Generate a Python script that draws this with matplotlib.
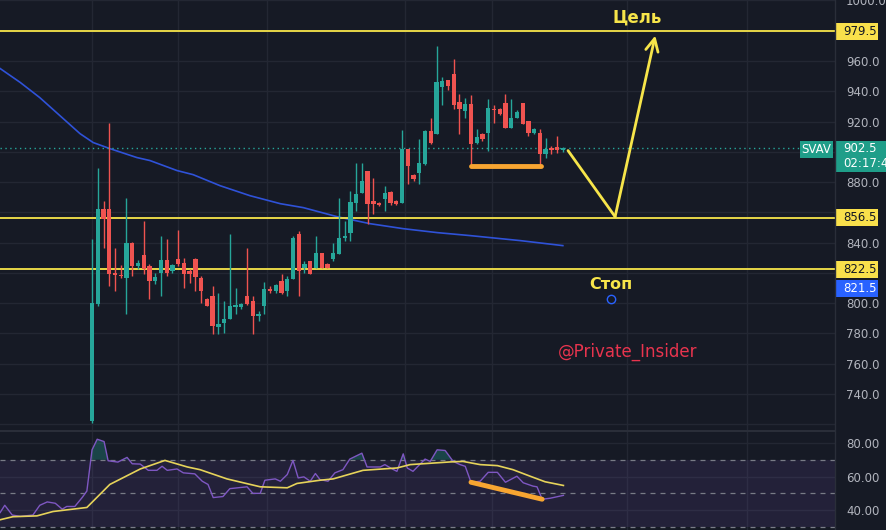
import matplotlib
matplotlib.use('Agg')
import matplotlib.pyplot as plt
import matplotlib.transforms as mtrans
from matplotlib.patches import Rectangle
from matplotlib.lines import Line2D
import numpy as np

# ---------------- data ----------------
opens = [722.2, 799.6, 862.4, 862.4, 820.1, 818.8, 816.8, 840.0, 824.7, 832.0,
         824.7, 814.8, 820.1, 828.7, 821.4, 829.4, 826.7, 821.4, 829.4, 816.8,
         802.9, 804.9, 784.4, 787.0, 789.7, 797.6, 797.6, 804.9, 801.6, 791.7,
         798.3, 809.5, 808.2, 814.8, 808.2, 816.1, 845.9, 823.4, 828.0, 823.4,
         833.3, 826.1, 829.4, 832.7, 843.2, 846.6, 866.4, 873.0, 887.6, 867.7,
         866.4, 869.0, 873.7, 867.7, 866.4, 902.1, 884.9, 886.2, 892.2, 914.0,
         912.0, 942.5, 947.7, 951.7, 933.2, 927.2, 931.9, 906.1, 912.0, 912.7,
         928.6, 928.6, 932.5, 916.0, 922.6, 932.5, 920.6, 912.7, 912.7, 898.8,
         902.8, 903.4, 901.5]
highs = [842.6, 889.5, 867.7, 919.3, 836.7, 825.4, 869.7, 840.6, 828.7, 854.5,
         826.1, 820.1, 844.6, 842.6, 826.1, 848.0, 830.0, 822.7, 830.0, 818.1,
         803.6, 811.5, 806.9, 801.6, 845.9, 810.2, 800.3, 836.7, 804.9, 795.0,
         814.1, 811.5, 812.5, 819.4, 818.1, 844.6, 847.9, 828.0, 828.0, 844.6,
         833.3, 826.7, 840.0, 869.7, 854.5, 874.3, 892.9, 892.9, 887.6, 882.9,
         867.1, 877.6, 874.3, 868.0, 914.7, 902.1, 885.5, 908.7, 914.7, 922.0,
         970.2, 949.7, 947.7, 961.6, 938.5, 935.8, 937.2, 915.3, 912.7, 935.2,
         930.6, 929.2, 938.5, 935.2, 927.5, 932.5, 920.6, 916.0, 915.3, 909.4,
         904.1, 910.7, 903.4]
lows = [720.9, 798.3, 836.7, 811.5, 808.2, 816.8, 793.0, 818.1, 822.7, 819.4,
        802.9, 812.8, 805.0, 818.1, 820.1, 824.7, 810.2, 813.5, 808.2, 800.3,
        798.0, 779.8, 779.8, 780.4, 789.7, 793.0, 796.3, 798.9, 779.8, 788.4,
        793.0, 806.9, 806.9, 806.2, 804.9, 816.1, 804.9, 820.1, 819.4, 823.4,
        823.4, 823.4, 828.0, 832.7, 841.3, 841.3, 861.1, 873.0, 852.5, 859.1,
        864.4, 861.1, 865.0, 865.0, 866.4, 879.0, 881.0, 879.0, 891.5, 905.4,
        912.0, 930.6, 940.5, 928.6, 912.0, 922.6, 889.5, 905.4, 907.0, 900.8,
        919.3, 924.0, 916.0, 916.0, 922.0, 918.6, 910.7, 912.0, 889.5, 896.2,
        898.8, 899.5, 900.0]
closes = [800.3, 862.4, 855.8, 819.4, 818.8, 818.1, 840.0, 824.7, 826.7, 822.7,
          814.8, 817.5, 828.7, 820.1, 825.4, 826.1, 819.4, 819.4, 817.5, 808.2,
          798.3, 785.0, 786.4, 789.7, 798.3, 798.9, 799.6, 799.6, 791.7, 793.0,
          809.5, 808.2, 812.2, 806.9, 816.1, 843.2, 821.4, 826.1, 819.4, 833.3,
          823.4, 823.4, 833.3, 843.2, 844.6, 867.1, 872.4, 880.9, 865.7, 865.7,
          865.0, 873.0, 866.4, 865.7, 902.1, 890.9, 882.3, 892.9, 914.0, 906.1,
          945.8, 947.1, 943.8, 930.6, 928.6, 931.9, 905.4, 910.0, 908.7, 929.2,
          927.9, 925.3, 916.0, 922.6, 926.6, 918.6, 912.7, 915.3, 898.8, 902.1,
          901.5, 901.5, 902.5]

ma_x = [-16.0, -12.5, -9.1, -5.6, -2.1, 0.2, 3.1, 7.8, 10.1, 14.8, 17.6, 22.3,
        27.5, 32.8, 36.8, 42.7, 48.4, 54.2, 60.1, 65.9, 74.6, 82.0]
ma_y = [955.0, 945.8, 935.8, 923.9, 912.0, 906.1, 902.1, 896.2, 894.2, 887.6,
        884.9, 877.6, 871.0, 865.7, 863.1, 857.1, 852.5, 849.2, 846.6, 844.6,
        841.3, 838.0]

rsi_x = [-16.0, -15.2, -13.9, -12.5, -10.3, -9.1, -7.8, -6.4, -5.2, -4.4, -3.0,
         -1.7, -0.9, 0.0, 0.9, 2.1, 2.8, 4.5, 6.1, 7.0, 8.4, 9.8, 11.3, 12.2,
         13.1, 14.8, 15.9, 17.9, 19.2, 20.2, 21.1, 22.8, 24.0, 27.0, 28.0, 29.3,
         30.1, 31.9, 32.8, 34.0, 35.0, 35.9, 36.9, 38.0, 38.9, 39.7, 41.1, 42.3,
         43.7, 44.9, 47.0, 47.9, 50.2, 51.0, 52.3, 53.1, 54.2, 54.9, 55.9, 58.0,
         58.9, 60.1, 61.5, 62.9, 64.1, 65.0, 66.0, 67.6, 69.0, 70.6, 72.0, 74.0,
         75.1, 76.8, 77.5, 78.4, 79.8, 82.1]
rsi_v = [38.6, 42.9, 37.1, 36.3, 37.1, 42.9, 44.9, 44.1, 40.6, 42.2, 42.2,
         47.6, 51.4, 75.9, 82.2, 80.8, 69.4, 68.6, 71.4, 67.6, 67.4, 63.7, 63.7, 66.1,
         63.7, 64.5, 62.2, 61.6, 57.2, 55.3, 47.5, 48.1, 52.8, 53.9, 50.0, 50.0,
         57.8, 58.6, 57.2, 61.2, 69.6, 59.2, 59.8, 57.2, 61.8, 58.2, 57.2, 62.2,
         64.1, 70.4, 73.9, 65.7, 65.7, 67.1, 64.5, 63.1, 73.5, 65.1, 63.1, 70.4,
         69.0, 75.9, 75.5, 69.0, 67.1, 66.1, 56.6, 57.2, 62.5, 62.5, 56.6, 60.2,
         56.3, 54.3, 53.9, 46.5, 47.1, 48.8]

rsima_x = [-16.0, -13.8, -9.6, -6.8, -0.9, 3.1, 8.4, 12.7, 16.6, 18.8, 23.5,
           29.3, 34.0, 35.7, 39.7, 42.0, 47.2, 53.1, 55.4, 62.4, 64.6, 67.6,
           70.6, 73.3, 76.3, 78.9, 82.1]
rsima_v = [34.3, 36.1, 36.6, 39.2, 41.6, 55.3, 64.5, 69.6, 65.7, 64.1, 58.6,
           53.9, 53.3, 55.9, 57.8, 58.6, 63.7, 65.1, 67.1, 68.7, 69.0, 67.1,
           66.5, 64.1, 60.2, 56.9, 54.7]

levels = [979.5, 856.5, 822.5]
price_ticks = [740, 760, 780, 800, 840, 880, 920, 940, 960, 1000]
last_price = 902.5
stop_price = 821.5

# target projection path (bar index, price)
path_x = [82.9, 91.1, 98.1]
path_y = [900.8, 857.1, 976.8]
# support / divergence marks
sup_x = [66.0, 78.2]
sup_y = [890.9, 890.9]
div_x = [66.0, 78.4]
div_y = [56.6, 46.5]

vgrid = [0, 15.0, 30.5, 54.5, 69.7, 93.2, 114.1]

# ---------------- style ----------------
BG = '#161a25'
GRID = '#232733'
GREEN = '#26a69a'
RED = '#ef5350'
YEL = '#f7e54a'
YBOX = '#f9e04b'
TXT = '#b2b5be'
ORANGE = '#f7a531'

W, H = 887, 530
fig = plt.figure(figsize=(W / 100, H / 100), dpi=100, facecolor=BG)
axw = 835 / W
ax = fig.add_axes([0, 99 / H, axw, 431 / H], facecolor=BG)
ax2 = fig.add_axes([0, 0, axw, 98 / H], facecolor=BG)

XL = (-16.03, 129.4)
for a in (ax, ax2):
    a.set_xlim(*XL)
    for s in a.spines.values():
        s.set_visible(False)
    a.set_xticks([])
    a.yaxis.tick_right()
    a.tick_params(axis='y', length=0, pad=8, labelcolor=TXT, labelsize=8.5)
    for v in vgrid:
        a.axvline(v, color=GRID, lw=1, zorder=0)

ax.set_ylim(715.5, 1000.3)
for p in range(720, 1001, 20):
    ax.axhline(p, color=GRID, lw=1, zorder=0)
ax.set_yticks(price_ticks)
ax.set_yticklabels([f'{t:.1f}' for t in price_ticks])

# separators
fig.add_artist(Line2D([axw, axw], [0, 1], transform=fig.transFigure, color='#2a2e39', lw=1))
fig.add_artist(Line2D([0, axw], [99 / H, 99 / H], transform=fig.transFigure, color='#2a2e39', lw=1.5))

# candles
xs = np.arange(len(opens))
o = np.array(opens); c = np.array(closes); h = np.array(highs); l = np.array(lows)
cols = [GREEN if cc >= oo else RED for oo, cc in zip(o, c)]
ax.vlines(xs, l, h, colors=cols, lw=1, zorder=3)
body_b = np.minimum(o, c)
body_h = np.maximum(np.abs(c - o), 0.6)
ax.bar(xs, body_h, bottom=body_b, width=0.75, color=cols, zorder=4, linewidth=0)

# moving average
ax.plot(ma_x, ma_y, color='#2f52d8', lw=1.2, zorder=2)

# horizontal levels
for lv in levels:
    ax.axhline(lv, color=YEL, lw=1.3, zorder=2)
ax.axhline(last_price, color=GREEN, lw=1, ls=(0, (1, 2.5)), zorder=2)

# marks
ax.plot(sup_x, sup_y, color=ORANGE, lw=3.5, solid_capstyle='round', zorder=5)
ax.plot(path_x[:2], path_y[:2], color=YEL, lw=2, zorder=5, solid_capstyle='round')
ax.annotate('', xy=(path_x[2], path_y[2]), xytext=(path_x[1], path_y[1]),
            arrowprops=dict(arrowstyle='->,head_length=0.9,head_width=0.45', color=YEL, lw=2,
                            shrinkA=0, shrinkB=0), zorder=5)
ax.text(95.0, 988.6, 'Цель', color=YEL, fontsize=12, fontweight='bold', ha='center', va='center')
ax.text(90.4, 812.2, 'Стоп', color=YEL, fontsize=11.5, fontweight='bold', ha='center', va='center')
ax.plot([90.4], [802.9], 'o', mfc='none', mec='#2962ff', ms=6, mew=1, zorder=5)
ax.text(93.3, 767.8, '@Private_Insider', color='#e8344e', fontsize=12, ha='center', va='center')

# price labels on axis
tr = mtrans.blended_transform_factory(ax.transAxes, ax.transData)
ppx = 1 / 1.512  # price units per pixel
def box(x0, y_center, wpx, hpx, fc, zorder=10):
    hh = hpx * ppx
    r = Rectangle((x0, y_center - hh / 2), wpx / 835, hh, transform=tr, facecolor=fc,
                  edgecolor='none', clip_on=False, zorder=zorder)
    ax.add_patch(r)

for lv in levels:
    box(1.0, lv, 43, 17, YBOX)
    ax.text(1.0 + 8 / 835, lv, f'{lv:.1f}', transform=tr, color='#131722', fontsize=8.5,
            va='center', ha='left', clip_on=False, zorder=11)
stop_lbl_y = stop_price - 11.7
box(1.0, stop_lbl_y, 43, 17, '#2962ff')
ax.text(1.0 + 8 / 835, stop_lbl_y, f'{stop_price:.1f}', transform=tr, color='white',
        fontsize=8.5, va='center', ha='left', clip_on=False, zorder=11)
# current price box
box(1.0, 897.1, 55, 31, '#1f9e89')
ax.text(1.0 + 8 / 835, last_price, f'{last_price:.1f}', transform=tr, color='white',
        fontsize=8.5, va='center', ha='left', clip_on=False, zorder=11)
ax.text(1.0 + 8 / 835, 892.0, '02:17:43', transform=tr, color='white',
        fontsize=8.5, va='center', ha='left', clip_on=False, zorder=11)
box(800 / 835, 901.8, 33, 17, '#1f9e89')
ax.text(816.5 / 835, 901.8, 'SVAV', transform=tr, color='white', fontsize=8.5,
        va='center', ha='center', zorder=11)

# ---------------- RSI pane ----------------
ax2.set_ylim(28.2, 86.5)
for p in (40, 60, 80):
    ax2.axhline(p, color=GRID, lw=1, zorder=0)
ax2.axhspan(30, 70, color='#7e57c2', alpha=0.13, lw=0, zorder=0)
for p in (70, 50, 30):
    ax2.axhline(p, color='#787b86', lw=0.9, ls=(0, (4, 4)), zorder=1)
ax2.set_yticks([40, 60, 80])
ax2.set_yticklabels(['40.00', '60.00', '80.00'])
rv = np.array(rsi_v)
ax2.fill_between(rsi_x, rv, 70, where=rv > 70, interpolate=True, color=GREEN, alpha=0.3, lw=0, zorder=1)
ax2.plot(rsi_x, rsi_v, color='#7e57c2', lw=1, zorder=3)
ax2.plot(rsima_x, rsima_v, color='#e6d35a', lw=1.2, zorder=3)
ax2.plot(div_x, div_y, color=ORANGE, lw=3.5, solid_capstyle='round', zorder=4)

fig.savefig('out.png', dpi=100, facecolor=BG)
